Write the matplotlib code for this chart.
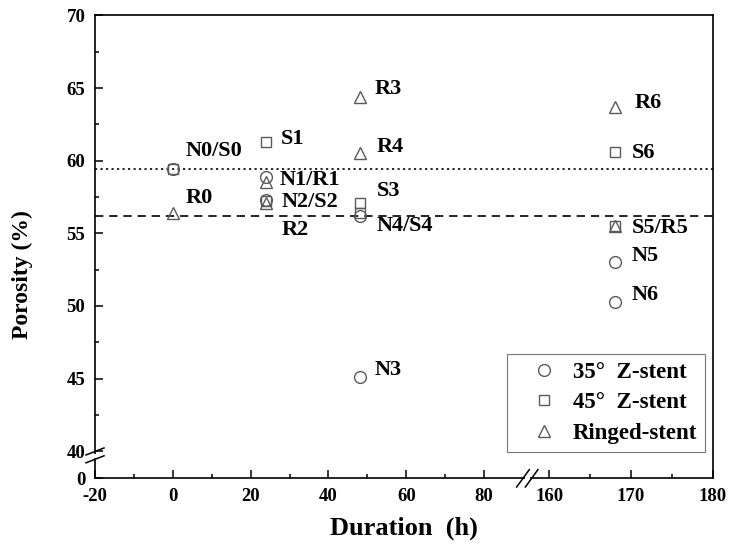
import numpy as np
import matplotlib
matplotlib.use('Agg')
import matplotlib.pyplot as plt

# data
n_duration = [0, 24, 24, 48, 48, 168, 168]
n_porosity = [59.4, 58.9, 57.3, 45.1, 56.2, 53.0, 50.3]
s_duration = [0, 24, 24, 48, 48, 168, 168]
s_porosity = [59.4, 61.3, 57.2, 57.1, 56.4, 55.5, 60.6]
r_duration = [0, 24, 24, 48, 48, 168, 168]
r_porosity = [56.4, 58.5, 57.1, 64.4, 60.5, 55.5, 63.7]

series_names = ["35\u00b0  Z-stent", "45\u00b0  Z-stent", "Ringed-stent"]
dotted_level = 59.4
dashed_level = 56.2

x_major = [-20, 0, 20, 40, 60, 80, 160, 170, 180]
x_minor = [-10, 10, 30, 50, 70, 165, 175]
y_major = [0, 40, 45, 50, 55, 60, 65, 70]
y_minor = [42.5, 47.5, 52.5, 57.5, 62.5, 67.5]

# point labels: (text, series, index)
point_labels = [
    ("N0/S0", "N", 0), ("R0", "R", 0), ("S1", "S", 1), ("N1/R1", "N", 1),
    ("N2/S2", "N", 2), ("R2", "R", 2), ("R3", "R", 3), ("R4", "R", 4),
    ("S3", "S", 3), ("N4/S4", "N", 4), ("N3", "N", 3), ("R6", "R", 6),
    ("S6", "S", 6), ("S5/R5", "S", 5), ("N5", "N", 5), ("N6", "N", 6),
]
# offsets in pixels from the marker
label_offsets = {
    "N0/S0": (13, 18), "R0": (13, 15), "S1": (15, 3), "N1/R1": (13, -3),
    "N2/S2": (15, -2), "R2": (15, -27), "R3": (15, 8), "R4": (17, 6),
    "S3": (17, 12), "N4/S4": (17, -10), "N3": (15, 7), "R6": (20, 4),
    "S6": (17, -1), "S5/R5": (17, -2), "N5": (17, 6), "N6": (17, 7),
}

series = {
    "N": (n_duration, n_porosity),
    "S": (s_duration, s_porosity),
    "R": (r_duration, r_porosity),
}

# broken axes as piecewise linear scales
xk_data = [-20, 90, 160, 180]
xk_disp = [-20, 90, 96.7, 138.8]
yk_data = [0, 40, 70]
yk_disp = [38.14, 40, 70]


def fwd_x(x):
    return np.interp(x, xk_data, xk_disp)


def inv_x(u):
    return np.interp(u, xk_disp, xk_data)


def fwd_y(y):
    return np.interp(y, yk_data, yk_disp)


def inv_y(u):
    return np.interp(u, yk_disp, yk_data)


plt.rcParams['font.family'] = ['Liberation Serif', 'DejaVu Serif']
plt.rcParams['font.weight'] = 'bold'

fig = plt.figure(figsize=(7.29, 5.52), dpi=100)
ax = fig.add_axes([0.1303, 0.1335, 0.8477, 0.8386])
ax.set_xscale('function', functions=(fwd_x, inv_x))
ax.set_yscale('function', functions=(fwd_y, inv_y))
ax.set_xlim(-20, 180)
ax.set_ylim(0, 70)

edge = '#5a5a5a'
ax.plot(n_duration, n_porosity, 'o', ms=8.5, mfc='none', mec=edge, mew=1.0,
        label=series_names[0], zorder=3)
ax.plot(s_duration, s_porosity, 's', ms=7.5, mfc='none', mec=edge, mew=1.0,
        label=series_names[1], zorder=3)
ax.plot(r_duration, r_porosity, '^', ms=9, mfc='none', mec=edge, mew=1.0,
        label=series_names[2], zorder=3)

ax.axhline(dotted_level, color='black', lw=1.2, ls=(0, (1.3, 2)), zorder=2)
ax.axhline(dashed_level, color='black', lw=1.2, ls=(0, (5, 3.5)), zorder=2)

for text, key, i in point_labels:
    xs, ys = series[key]
    ax.annotate(text, xy=(xs[i], ys[i]), xytext=label_offsets[text],
                textcoords='offset pixels', ha='left', va='center',
                fontsize=16, fontweight='bold')

ax.set_xticks(x_major)
ax.set_xticks(x_minor, minor=True)
ax.set_yticks(y_major)
ax.set_yticks(y_minor, minor=True)
ax.set_xticklabels([str(v) for v in x_major])
ax.set_yticklabels([str(v) for v in y_major])
ax.tick_params(which='both', direction='in', top=False, right=False,
               labelsize=13.5, width=1.1)
ax.tick_params(which='major', length=6)
ax.tick_params(which='minor', length=3)
ax.tick_params(axis='x', which='major', pad=7)
ax.tick_params(axis='y', which='major', pad=7)
for lab in ax.get_xticklabels() + ax.get_yticklabels():
    lab.set_fontweight('bold')
for sp in ax.spines.values():
    sp.set_linewidth(1.2)

ax.set_xlabel("Duration  (h)", fontsize=19, fontweight='bold', labelpad=8)
ax.set_ylabel("Porosity (%)", fontsize=17, fontweight='bold')
ax.yaxis.set_label_coords(-0.100, 0.44)

# break marks
tr = ax.transAxes
kw = dict(transform=tr, color='black', lw=1.1, clip_on=False, zorder=5)
ax.plot([0, 0], [0.044, 0.053], transform=tr, color='white', lw=3,
        clip_on=False, solid_capstyle='butt', zorder=4)
for yc in (0.058, 0.041):
    ax.plot([-0.0146, 0.0146], [yc - 0.0076, yc + 0.0076], **kw)
ax.plot([0.6955, 0.7035], [0, 0], transform=tr, color='white', lw=3,
        clip_on=False, solid_capstyle='butt', zorder=4)
for xc in (0.6926, 0.7066):
    ax.plot([xc - 0.0102, xc + 0.0102], [-0.0188, 0.0188], **kw)

leg = ax.legend(loc='lower right', bbox_to_anchor=(0.987, 0.057),
                prop={'family': 'Liberation Serif', 'weight': 'bold', 'size': 16.5},
                frameon=True, fancybox=False, edgecolor='#777777',
                framealpha=1, borderpad=0.35, labelspacing=0.42,
                handletextpad=0.0, handlelength=2.5, borderaxespad=0)
leg.get_frame().set_linewidth(0.8)

fig.savefig('out.png', dpi=100)
